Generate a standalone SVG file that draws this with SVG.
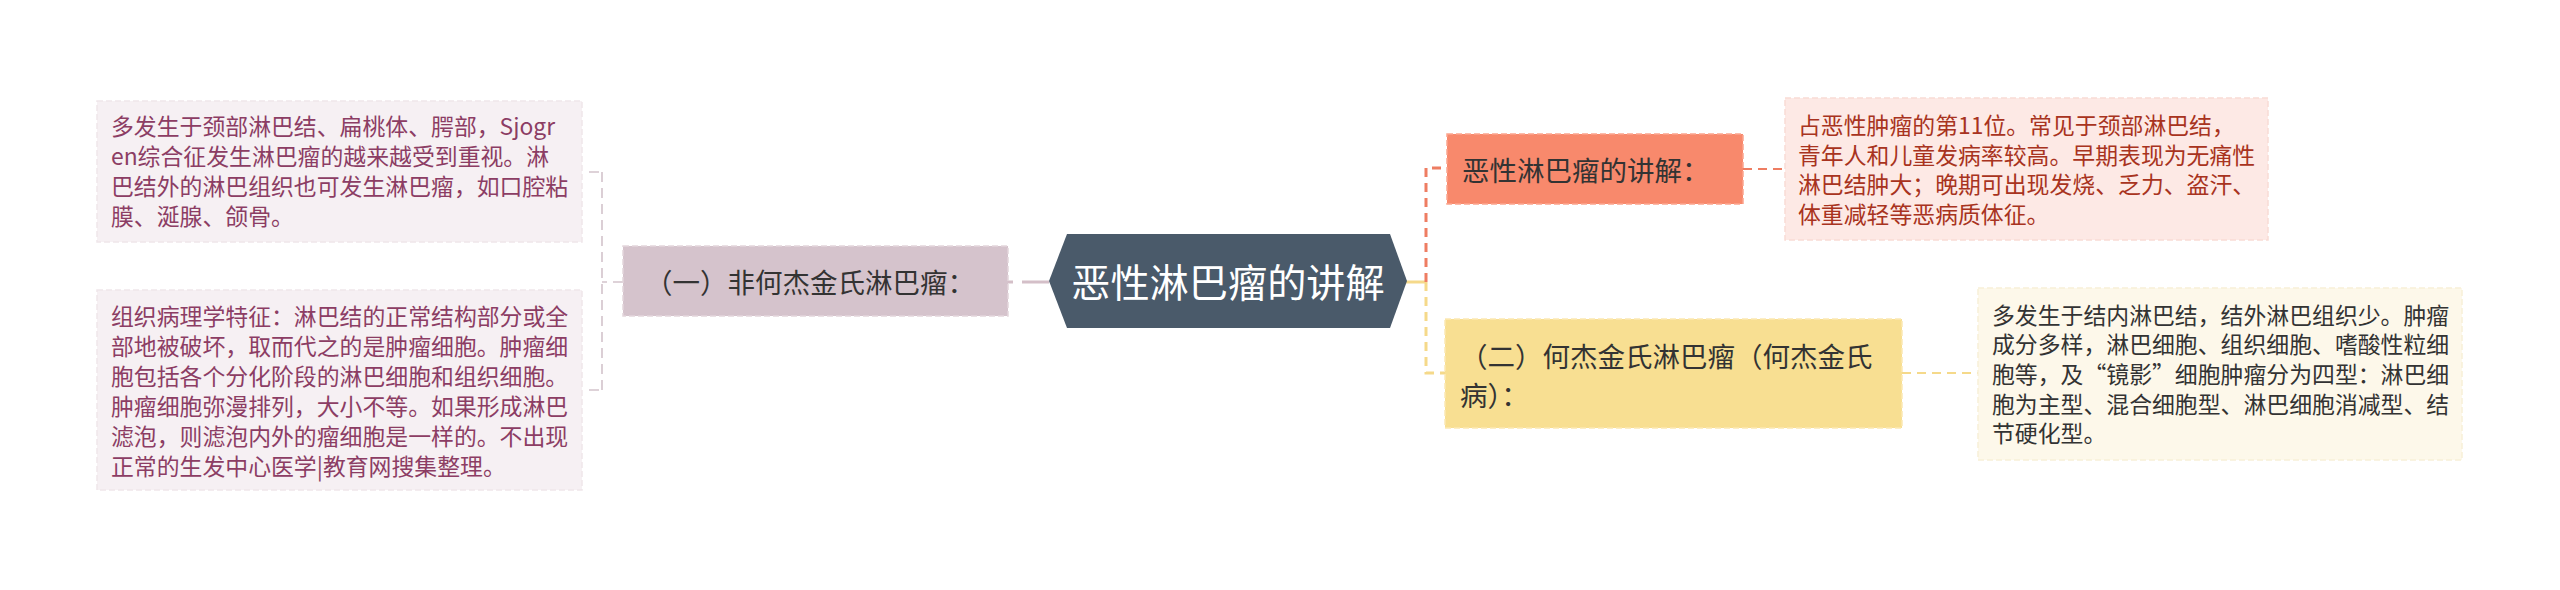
<svg xmlns="http://www.w3.org/2000/svg" width="2560" height="590" viewBox="0 0 2560 590">
<style>
text{font-family:"Noto Sans CJK SC","Noto Sans",sans-serif;}
.leaf{font-size:22.86px;}
.node{font-size:27.5px;fill:#333333;}
.lp{fill:#f6f0f3;stroke:#efe6ea;stroke-width:1.5;stroke-dasharray:6 3;}
.lpt{fill:#8c3d64;}
.lr{fill:#fde9e5;stroke:#f9dcd5;stroke-width:1.5;stroke-dasharray:6 3;}
.lrt{fill:#a83320;}
.ly{fill:#fdf8ea;stroke:#f8f0d8;stroke-width:1.5;stroke-dasharray:6 3;}
.lyt{fill:#333333;}
.cg{fill:none;stroke:#d3c3cb;stroke-width:1.6;stroke-dasharray:10 6;}
.cr{fill:none;stroke:#ee7d62;stroke-width:3;stroke-dasharray:9 6;}
.cy{fill:none;stroke:#f5d98a;stroke-width:3;stroke-dasharray:9 6;}
</style>
<rect width="2560" height="590" fill="#ffffff"/>
<g id="connectors">
  <line x1="1008" y1="282" x2="1049" y2="282" stroke="#d4bfc8" stroke-width="3" stroke-dasharray="5 9 28 0"/>
  <path class="cg" d="M623,282 H602 M602,172 V390 M589,172 H602 M589,390 H602"/>
  <line x1="1405" y1="282" x2="1426" y2="282" stroke="#f5d98a" stroke-width="3"/>
  <path class="cr" d="M1426,282 V168 H1447"/>
  <path class="cy" d="M1426,282 V373 H1445"/>
  <line x1="1743" y1="169" x2="1785" y2="169" stroke="#ee7d62" stroke-width="2" stroke-dasharray="9 6"/>
  <line x1="1902" y1="373" x2="1978" y2="373" stroke="#f5d98a" stroke-width="2" stroke-dasharray="9 6"/>
</g>
<g id="central">
  <polygon points="1049,281 1067,234 1390,234 1407,281 1390,328 1067,328" fill="#4a5a6a"/>
  <text x="1228" y="297" text-anchor="middle" font-size="39.2" fill="#ffffff">恶性淋巴瘤的讲解</text>
</g>
<g id="node-nonhodgkin">
  <rect x="623" y="246" width="385" height="70" fill="#d5c3cc" stroke="#e3d6dc" stroke-width="1.5" stroke-dasharray="6 3"/>
  <text class="node" x="645" y="293">（一）非何杰金氏淋巴瘤：</text>
</g>
<g id="leaf-a">
  <rect class="lp" x="97" y="101" width="485" height="141"/>
  <text class="leaf lpt" x="111" y="135">多发生于颈部淋巴结、扁桃体、腭部，Sjogr</text>
  <text class="leaf lpt" x="111" y="165">en综合征发生淋巴瘤的越来越受到重视。淋</text>
  <text class="leaf lpt" x="111" y="195">巴结外的淋巴组织也可发生淋巴瘤，如口腔粘</text>
  <text class="leaf lpt" x="111" y="225">膜、涎腺、颌骨。</text>
</g>
<g id="leaf-b">
  <rect class="lp" x="97" y="290" width="485" height="200"/>
  <text class="leaf lpt" x="111" y="325">组织病理学特征：淋巴结的正常结构部分或全</text>
  <text class="leaf lpt" x="111" y="355">部地被破坏，取而代之的是肿瘤细胞。肿瘤细</text>
  <text class="leaf lpt" x="111" y="385">胞包括各个分化阶段的淋巴细胞和组织细胞。</text>
  <text class="leaf lpt" x="111" y="415">肿瘤细胞弥漫排列，大小不等。如果形成淋巴</text>
  <text class="leaf lpt" x="111" y="445">滤泡，则滤泡内外的瘤细胞是一样的。不出现</text>
  <text class="leaf lpt" x="111" y="475">正常的生发中心医学|教育网搜集整理。</text>
</g>
<g id="node-malignant">
  <rect x="1447" y="134" width="296" height="70" fill="#f8896c" stroke="#fba58e" stroke-width="1.5" stroke-dasharray="6 3"/>
  <text class="node" x="1462" y="181">恶性淋巴瘤的讲解：</text>
</g>
<g id="leaf-red">
  <rect class="lr" x="1785" y="98" width="483" height="142"/>
  <text class="leaf lrt" x="1798" y="134">占恶性肿瘤的第11位。常见于颈部淋巴结，</text>
  <text class="leaf lrt" x="1798" y="163.5">青年人和儿童发病率较高。早期表现为无痛性</text>
  <text class="leaf lrt" x="1798" y="193">淋巴结肿大；晚期可出现发烧、乏力、盗汗、</text>
  <text class="leaf lrt" x="1798" y="222.5">体重减轻等恶病质体征。</text>
</g>
<g id="node-hodgkin">
  <rect x="1445" y="319" width="457" height="109" fill="#f8df92" stroke="#fbe9b4" stroke-width="1.5" stroke-dasharray="6 3"/>
  <text class="node" x="1460" y="367">（二）何杰金氏淋巴瘤（何杰金氏</text>
  <text class="node" x="1460" y="406">病）：</text>
</g>
<g id="leaf-yellow">
  <rect class="ly" x="1978" y="288" width="484" height="172"/>
  <text class="leaf lyt" x="1992" y="323.5">多发生于结内淋巴结，结外淋巴组织少。肿瘤</text>
  <text class="leaf lyt" x="1992" y="353">成分多样，淋巴细胞、组织细胞、嗜酸性粒细</text>
  <text class="leaf lyt" x="1992" y="383">胞等，及“镜影”细胞肿瘤分为四型：淋巴细</text>
  <text class="leaf lyt" x="1992" y="412.5">胞为主型、混合细胞型、淋巴细胞消减型、结</text>
  <text class="leaf lyt" x="1992" y="442">节硬化型。</text>
</g>
</svg>
